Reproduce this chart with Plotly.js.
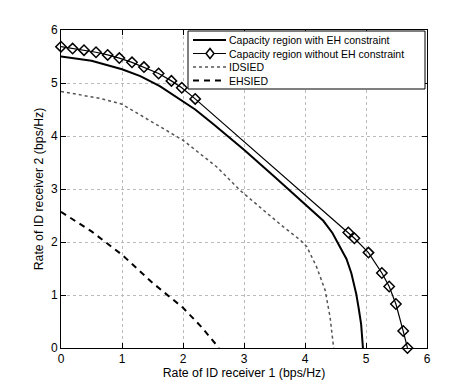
<!DOCTYPE html>
<html>
<head>
<meta charset="utf-8">
<script src="https://cdn.plot.ly/plotly-3.0.1.min.js"></script>
<style>
  html, body { margin: 0; padding: 0; background: #fff; }
  #chart { width: 472px; height: 392px; }
</style>
</head>
<body>
<div id="chart"></div>
<script>
// capacity region with EH constraint
var withEhX = [0, 0.5, 1, 1.3, 1.62, 2.0, 2.2, 2.5, 3, 3.5, 4, 4.3, 4.45, 4.56, 4.68, 4.76, 4.84, 4.88, 4.92, 4.95];
var withEhY = [5.50, 5.42, 5.26, 5.13, 4.94, 4.66, 4.50, 4.22, 3.74, 3.23, 2.72, 2.40, 2.17, 1.93, 1.68, 1.41, 1.02, 0.75, 0.45, 0];

// capacity region without EH constraint (markers)
var noEhX = [0, 0.19, 0.377, 0.574, 0.765, 0.956, 1.164, 1.36, 1.60, 1.81, 1.98, 2.20, 4.71, 4.81, 5.04, 5.26, 5.38, 5.49, 5.61, 5.68];
var noEhY = [5.685, 5.65, 5.62, 5.58, 5.53, 5.47, 5.39, 5.30, 5.18, 5.04, 4.91, 4.70, 2.18, 2.07, 1.80, 1.415, 1.16, 0.83, 0.32, 0];

// IDSIED
var idX = [0, 0.64, 1, 1.30, 1.62, 2.0, 2.55, 2.95, 3.32, 3.64, 3.92, 4.03, 4.19, 4.33, 4.41, 4.46, 4.47];
var idY = [4.84, 4.71, 4.60, 4.40, 4.18, 3.92, 3.42, 2.96, 2.60, 2.29, 2.04, 1.91, 1.53, 1.09, 0.59, 0.06, 0];

// EHSIED
var ehX = [0, 0.5, 1, 1.5, 2, 2.3, 2.59];
var ehY = [2.57, 2.20, 1.76, 1.23, 0.76, 0.40, 0];

var names = ['Capacity region with EH constraint', 'Capacity region without EH constraint', 'IDSIED', 'EHSIED'];
var lineStyles = [
  {color: '#000', width: 2},
  {color: '#000', width: 1.2},
  {color: '#555', width: 1.5, dash: 'dot'},
  {color: '#000', width: 2, dash: '6px,5px'}
];
var diamond = {symbol: 'diamond-open', size: 8, color: '#000', line: {width: 1.5, color: '#000'}};

var data = [
  {x: withEhX, y: withEhY, mode: 'lines', name: names[0], line: lineStyles[0]},
  {x: noEhX, y: noEhY, mode: 'lines+markers', name: names[1], line: lineStyles[1],
   marker: diamond, cliponaxis: false},
  {x: idX, y: idY, mode: 'lines', name: names[2], line: lineStyles[2]},
  {x: ehX, y: ehY, mode: 'lines', name: names[3], line: lineStyles[3]}
];

// plot area in pixels: left 61, top 30, 366 x 318
function px(v) { return (v - 61) / 366; }
function py(v) { return (348 - v) / 318; }

// hand-drawn legend box (MATLAB style, compact rows)
var shapes = [{type: 'rect', xref: 'paper', yref: 'paper',
  x0: px(188), x1: px(425), y0: py(89), y1: py(31),
  line: {color: '#000', width: 1}, fillcolor: '#fff', layer: 'above'}];
var annotations = [];
var rowY = [40, 53.5, 67, 80.5];
for (var i = 0; i < names.length; i++) {
  var ls = lineStyles[i];
  shapes.push({type: 'line', xref: 'paper', yref: 'paper',
    x0: px(193), x1: px(226), y0: py(rowY[i]), y1: py(rowY[i]),
    line: {color: ls.color, width: ls.width, dash: ls.dash || 'solid'}, layer: 'above'});
  annotations.push({xref: 'paper', yref: 'paper', x: px(227), y: py(rowY[i]),
    xanchor: 'left', yanchor: 'middle', showarrow: false, text: names[i],
    font: {size: 10.5, color: '#000'}});
}
// diamond marker on the second legend row
var dx = 4, dy = 5, cx = 210, cy = rowY[1];
shapes.push({type: 'path', xref: 'paper', yref: 'paper', layer: 'above',
  path: 'M' + px(cx) + ',' + py(cy - dy) + ' L' + px(cx + dx) + ',' + py(cy) +
        ' L' + px(cx) + ',' + py(cy + dy) + ' L' + px(cx - dx) + ',' + py(cy) + ' Z',
  fillcolor: '#fff', line: {color: '#000', width: 1.5}});

var axisStyle = {
  range: [0, 6], dtick: 1, tick0: 0,
  showline: true, linecolor: '#000', linewidth: 1, mirror: 'ticks',
  ticks: 'inside', ticklen: 5, tickcolor: '#000',
  showgrid: true, gridcolor: '#bbb', griddash: 'dot', gridwidth: 1,
  zeroline: false,
  tickfont: {family: 'Liberation Sans, Arial', size: 12, color: '#000'}
};

var layout = {
  width: 472, height: 392,
  margin: {l: 61, r: 45, t: 30, b: 44},
  paper_bgcolor: '#fff', plot_bgcolor: '#fff',
  font: {family: 'Liberation Sans, Arial', color: '#000'},
  xaxis: Object.assign({}, axisStyle, {
    title: {text: 'Rate of ID receiver 1 (bps/Hz)', font: {size: 12.3}, standoff: 0}
  }),
  yaxis: Object.assign({}, axisStyle, {
    title: {text: 'Rate of ID receiver 2 (bps/Hz)', font: {size: 12.3}, standoff: 4}
  }),
  showlegend: false,
  shapes: shapes,
  annotations: annotations
};

Plotly.newPlot('chart', data, layout, {displayModeBar: false, staticPlot: true});
</script>
</body>
</html>
